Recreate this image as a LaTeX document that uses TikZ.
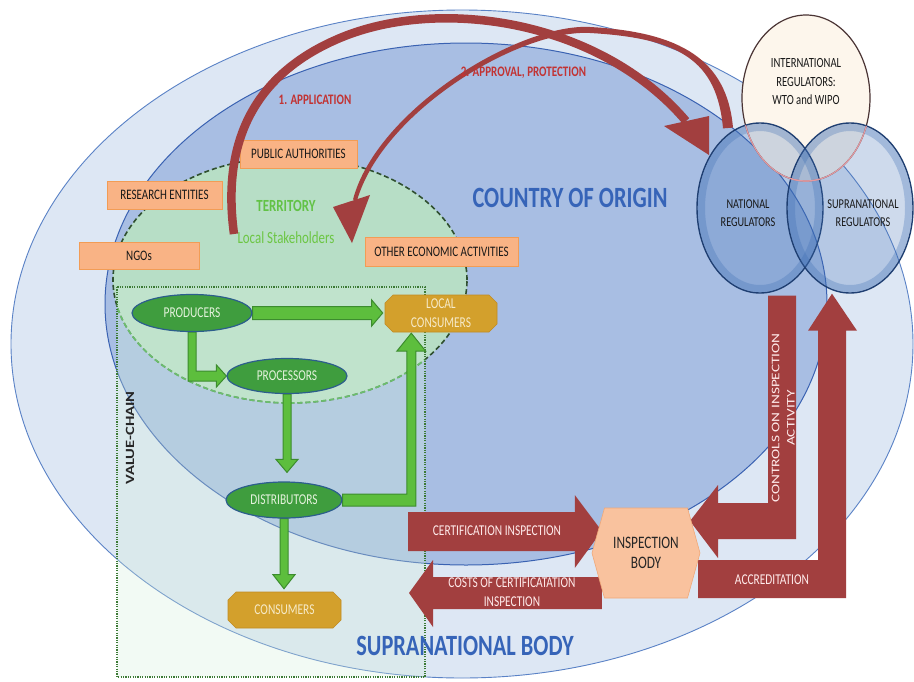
\documentclass[tikz,border=0pt]{standalone}
\usepackage{fontspec}
\setmainfont{Carlito}[FakeStretch=0.76]
\newfontfamily\widefont{Carlito}
\usetikzlibrary{shapes.geometric,shapes.misc,calc}
\pgfdeclarelayer{back}
\pgfdeclarelayer{mid}
\pgfdeclarelayer{front}
\pgfdeclarelayer{top}
\pgfsetlayers{back,mid,main,front,top}

\definecolor{outerfill}{HTML}{DDE7F4}
\definecolor{outerline}{HTML}{5A82C6}
\definecolor{countryfill}{HTML}{A8BEE3}
\definecolor{countryline}{HTML}{3A62B2}
\definecolor{terrfill}{HTML}{B7DEC6}
\definecolor{terrline}{HTML}{2F4F2F}
\definecolor{terrlight}{HTML}{3DAA3D}
\definecolor{chainline}{HTML}{3C7A35}
\definecolor{chainfill}{HTML}{D6F0DC}
\definecolor{labelfill}{HTML}{F9B385}
\definecolor{labelline}{HTML}{F29C55}
\definecolor{nodegreen}{HTML}{3F9D3E}
\definecolor{nodegreenline}{HTML}{2C5E8C}
\definecolor{nodetext}{HTML}{E4F2DC}
\definecolor{arrowgreen}{HTML}{5DBE3D}
\definecolor{arrowgreenline}{HTML}{3C8C2E}
\definecolor{goldfill}{HTML}{D3A02C}
\definecolor{goldline}{HTML}{C08A22}
\definecolor{goldtext}{HTML}{F6EAC8}
\definecolor{redarrow}{HTML}{A23F3F}
\definecolor{redtext}{HTML}{C23333}
\definecolor{regionblue}{HTML}{3664B8}
\definecolor{terrtext}{HTML}{62C246}
\definecolor{staketext}{HTML}{6CC644}
\definecolor{hexfill}{HTML}{F9C29E}
\definecolor{hexline}{HTML}{F0A878}
\definecolor{cream}{HTML}{FDF6EC}
\definecolor{intlline}{HTML}{4A3434}
\definecolor{pinkline}{HTML}{E49AA0}
\definecolor{regline}{HTML}{1F3F72}
\definecolor{regfill}{HTML}{3F6FB5}

\newcommand\fsz[2]{\fontsize{#1}{#2}\selectfont}
% green block arrow pointing down, from one anchor to another
\newcommand\gdown[4]{%
  \path[greenblk] let \p1=(#1), \p2=(#2) in
    (\x1-4pt,\y1) -- (\x1-4pt,\y2+#3pt+#4pt) -- (\x1-11pt,\y2+#3pt+#4pt)
    -- (\x1,\y2+#3pt) -- (\x1+11pt,\y2+#3pt+#4pt) -- (\x1+4pt,\y2+#3pt+#4pt)
    -- (\x1+4pt,\y1) -- cycle;}

\begin{document}
\begin{tikzpicture}[x=1pt,y=-1pt,
  lbl/.style={rectangle, draw=labelline, line width=0.8pt, fill=labelfill,
    inner sep=0pt, text=black!90, font=\fsz{14.5}{17}},
  gnode/.style={ellipse, draw=nodegreenline, line width=1.2pt, fill=nodegreen,
    inner sep=0pt, text=nodetext, font=\fsz{15}{18}},
  gold/.style={chamfered rectangle, chamfered rectangle xsep=4pt,
    chamfered rectangle ysep=4pt, fill=goldfill, draw=goldline, line width=0.6pt,
    inner sep=0pt, text=goldtext, font=\fsz{15}{19}, align=center},
  greenblk/.style={fill=arrowgreen, draw=arrowgreenline, line width=1pt},
  redblk/.style={fill=redarrow},
  redlbl/.style={text=redtext, font=\bfseries\fsz{14.5}{17}, inner sep=0pt},
  onred/.style={text=white!92!red, font=\fsz{15}{19}, align=center, inner sep=0pt},
  regtxt/.style={text=black!90, font=\fsz{13.5}{18}, align=center, inner sep=0pt},
  region/.style={text=regionblue, font=\bfseries\fsz{29.4}{32}, inner sep=0pt},
  regcircle/.style={ellipse, minimum width=126pt, minimum height=170pt, inner sep=0pt,
    fill=regfill, fill opacity=0.25, draw=regline, draw opacity=1, line width=1.4pt},
  regrim/.style={draw=regfill, draw opacity=0.3, line width=7pt},
  terrdash/.style={dash pattern=on 5pt off 3pt, line width=1.6pt}]

\useasboundingbox (0,0) rectangle (914,681);

% ---------- nested areas ----------
\begin{pgfonlayer}{back}
  \fill[white] (0,0) rectangle (914,681);
  \filldraw[fill=outerfill, draw=outerline, line width=0.9pt]
    (462,344) ellipse [x radius=451pt, y radius=334pt];
  \filldraw[fill=countryfill, draw=countryline, line width=1pt]
    (466,304) ellipse [x radius=361pt, y radius=261pt];
  \fill[terrfill] (290,280) ellipse [x radius=177pt, y radius=123pt];
  \draw[terrline, terrdash] (290,280) ellipse [x radius=177pt, y radius=123pt];
  \begin{scope}
    \clip (117,287) rectangle (425,677);
    \draw[terrlight, terrdash] (290,280) ellipse [x radius=177pt, y radius=123pt];
  \end{scope}
  \fill[chainfill, fill opacity=0.3] (117,287) rectangle (425,677);
  \draw[chainline, line width=1.6pt, dash pattern=on 1.2pt off 1.2pt]
    (117,287) rectangle (425,677);
\end{pgfonlayer}

% ---------- stakeholders of the territory ----------
\node[lbl, minimum width=117pt, minimum height=28pt] (pub) at (298.5,154) {PUBLIC AUTHORITIES};
\node[lbl, minimum width=115pt, minimum height=28pt] (res) at (164.5,195) {RESEARCH ENTITIES};
\node[lbl, minimum width=120pt, minimum height=27pt] (ngo) at (139,255.5) {NGOs};
\node[lbl, minimum width=153pt, minimum height=29pt] (oth) at (441.5,251.5) {OTHER ECONOMIC ACTIVITIES};
\node[text=terrtext, font=\bfseries\fsz{17}{20}, inner sep=0pt] (terr) at (286,206) {TERRITORY};
\node[text=staketext, font=\fsz{17}{20}, inner sep=0pt] (stake) at (286,238) {Local Stakeholders};

% ---------- value chain ----------
\node[gnode, minimum width=120pt, minimum height=37pt] (prod) at (192,313) {PRODUCERS};
\node[gnode, minimum width=120pt, minimum height=35pt] (proc) at (287,376) {PROCESSORS};
\node[gnode, minimum width=116pt, minimum height=36pt] (dist) at (284,500) {DISTRIBUTORS};
\node[gold, minimum width=112pt, minimum height=37pt] (lcons) at (441,313.5) {LOCAL\\CONSUMERS};
\node[gold, minimum width=113pt, minimum height=36pt] (cons) at (284.5,610) {CONSUMERS};
\node[rotate=90, inner sep=0pt, text=black!85] (vc) at (130,438)
  {\scalebox{1}[0.76]{\widefont\bfseries\fsz{16.5}{20}VALUE-CHAIN}};

\begin{pgfonlayer}{mid}
  % producers -> local consumers
  \path[greenblk] let \p1=(prod.east), \p2=(lcons.west) in
    (\x1,\y1+6.5pt) -- (\x2-13pt,\y1+6.5pt) -- (\x2-13pt,\y1+13pt) -- (\x2-2pt,\y1)
    -- (\x2-13pt,\y1-13pt) -- (\x2-13pt,\y1-6.5pt) -- (\x1,\y1-6.5pt) -- cycle;
  % producers -> processors
  \path[greenblk] let \p1=(prod.south), \p2=(proc.west) in
    (\x1-4pt,\y1) -- (\x1-4pt,\y2-5pt) -- (\x2-10pt,\y2-5pt) -- (\x2-10pt,\y2-11pt)
    -- (\x2,\y2) -- (\x2-10pt,\y2+11pt) -- (\x2-10pt,\y2+5pt) -- (\x1+4pt,\y2+5pt)
    -- (\x1+4pt,\y1) -- cycle;
  % processors -> distributors
  \gdown{proc.south}{dist.north}{9}{13}
  % distributors -> consumers
  \gdown{dist.south}{cons.north}{3}{14}
  % distributors -> local consumers
  \coordinate (lcin) at ($(lcons.south west)+(22.5,0)$);
  \path[greenblk] let \p1=(dist.east), \p2=(lcin) in
    (\x1,\y1+6pt) -- (\x2-4.5pt,\y1+6pt) -- (\x2-4.5pt,\y2-23pt) -- (\x2-14.5pt,\y2-23pt)
    -- (\x2,\y2-5pt) -- (\x2+14.5pt,\y2-23pt) -- (\x2+4.5pt,\y2-23pt) -- (\x2+4.5pt,\y1-6pt)
    -- (\x1,\y1-6pt) -- cycle;
\end{pgfonlayer}

% ---------- area titles ----------
\node[region] (coo) at (570,198) {COUNTRY OF ORIGIN};
\node[region] (sb) at (465,646) {SUPRANATIONAL BODY};

% ---------- regulators and inspection body ----------
\begin{pgfonlayer}{top}
  \node[ellipse, minimum width=128pt, minimum height=166pt, inner sep=0pt, fill=cream,
    draw=intlline, line width=1.2pt] (intl) at (806,98) {};
  \node[regtxt, font=\fsz{14}{18.5}] (intltxt) at (806,82) {INTERNATIONAL\\REGULATORS:\\WTO and WIPO};
  \node[regcircle] (natl) at (760,208) {};
  \node[regcircle] (supr) at (850,208) {};
  % glossy inner rims
  \draw[regrim] (natl.center) ellipse [x radius=58.5pt, y radius=80.5pt];
  \draw[regrim] (supr.center) ellipse [x radius=58.5pt, y radius=80.5pt];
  \begin{scope}
    \clip (natl.center) ellipse [x radius=63pt, y radius=85pt];
    \draw[pinkline, line width=1.2pt] (intl.center) ellipse [x radius=64pt, y radius=83pt];
  \end{scope}
  \begin{scope}
    \clip (supr.center) ellipse [x radius=63pt, y radius=85pt];
    \draw[pinkline, line width=1.2pt] (intl.center) ellipse [x radius=64pt, y radius=83pt];
  \end{scope}
  \node[regtxt] (natltxt) at (748,213) {NATIONAL\\REGULATORS};
  \node[regtxt] (suprtxt) at (863,213) {SUPRANATIONAL\\REGULATORS};

  \coordinate (ibc) at (646,553);
  \filldraw[fill=hexfill, draw=hexline, line width=0.6pt]
    ($(ibc)+(-54,0)$) -- ($(ibc)+(-41.5,-45)$) -- ($(ibc)+(41.5,-45)$) -- ($(ibc)+(54,0)$)
    -- ($(ibc)+(41.5,45)$) -- ($(ibc)+(-41.5,45)$) -- cycle;
  \node[minimum width=108pt, minimum height=90pt, inner sep=0pt, text=black!85,
    font=\fsz{17.5}{20}, align=center] (insp) at (ibc) {INSPECTION\\BODY};
\end{pgfonlayer}

% ---------- red flows ----------
\begin{pgfonlayer}{front}
  % 1. application: territory -> national regulators
  \coordinate (appStart) at (234,234);
  \coordinate (appEnd) at (686,121);
  \draw[redarrow, line width=8.5pt]
    (appStart) .. controls (224,160) and (240,80) .. (340,38)
    .. controls (440,-4) and (600,20) .. (appEnd);
  \fill[redarrow] (664,126) -- (709,155) -- (709,116) -- cycle;
  \node[redlbl] (l1) at (315,100) {1. APPLICATION};

  % 2. approval, protection: national regulators -> territory (tapered)
  \coordinate (apStart) at (728,128);
  \coordinate (apEnd) at (355,200);
  \fill[redarrow]
    (733,127.6) .. controls (727,60) and (681,32) .. (590,27)
    .. controls (520,23) and (377,109) .. (353,199.5)
    -- (357,200.5) .. controls (383,111) and (520,29) .. (590,33)
    .. controls (679,38) and (717,60) .. (723,128.4) -- cycle;
  \fill[redarrow] (333,207) -- (352,243) -- (370,195) -- cycle;
  \node[redlbl] (l2) at (523.5,73) {2. APPROVAL, PROTECTION};

  % certification inspection -> inspection body
  \coordinate (certTail) at (408,531);
  \coordinate (certTip) at ($(insp.west)+(10,-22)$);
  \path[redblk] let \p1=(certTail), \p2=(certTip) in
    (\x1,\y1+19pt) -- (\x2-27pt,\y1+19pt) -- (\x2-27pt,\y1+36pt) -- (\x2,\y1)
    -- (\x2-27pt,\y1-37pt) -- (\x2-27pt,\y1-20pt) -- (\x1,\y1-20pt) -- cycle;
  \node[onred] (certtxt) at (497,531) {CERTIFICATION INSPECTION};

  % costs of certification: inspection body -> value chain
  \coordinate (costStart) at ($(insp.west)+(10,40)$);
  \coordinate (costTip) at (409,593);
  \path[redblk] let \p1=(costStart), \p2=(costTip) in
    (\x1,\y1+16pt) -- (\x2+24pt,\y1+16pt) -- (\x2+24pt,\y1+33pt) -- (\x2,\y1)
    -- (\x2+24pt,\y1-34pt) -- (\x2+24pt,\y1-16pt) -- (\x1,\y1-16pt) -- cycle;
  \node[onred] (costtxt) at (512,592) {COSTS OF CERTIFICATATION\\INSPECTION};

  % controls: national regulators -> inspection body
  \coordinate (ctrlTop) at ($(natl.south)+(22,2)$);
  \coordinate (ctrlTip) at ($(insp.center)+(44,-32)$);
  \path[redblk] let \p1=(ctrlTop), \p2=(ctrlTip) in
    (\x1-14pt,\y1) -- (\x1+14pt,\y1) -- (\x1+14pt,\y2-18pt) -- (\x2+28pt,\y2-18pt)
    -- (\x2+28pt,\y2-37pt) -- (\x2,\y2) -- (\x2+28pt,\y2+36pt) -- (\x2+28pt,\y2+18pt)
    -- (\x1-14pt,\y2+18pt) -- cycle;
  \node[rotate=90, inner sep=0pt, text=white!92!red] (ctrltxt) at (784,418)
    {\scalebox{1}[0.76]{\widefont\fsz{15.3}{20}\begin{tabular}{@{}c@{}}CONTROLS ON INSPECTION\\ACTIVITY\end{tabular}}};

  % accreditation: inspection body -> supranational regulators
  \coordinate (accStart) at ($(insp.center)+(52,26)$);
  \coordinate (accTip) at ($(supr.south)+(-18,0)$);
  \path[redblk] let \p1=(accStart), \p2=(accTip) in
    (\x1,\y1+19pt) -- (\x2-14pt,\y1+19pt) -- (\x2-14pt,\y2-37pt) -- (\x2-24pt,\y2-37pt)
    -- (\x2,\y2) -- (\x2+25pt,\y2-37pt) -- (\x2+14pt,\y2-37pt) -- (\x2+14pt,\y1-19pt)
    -- (\x1,\y1-19pt) -- cycle;
  \node[onred] (acctxt) at (772,580) {ACCREDITATION};
\end{pgfonlayer}
\end{tikzpicture}
\end{document}
